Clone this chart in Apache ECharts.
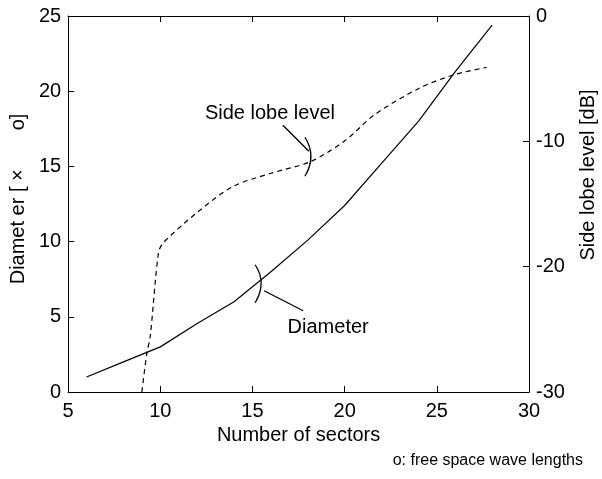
<!DOCTYPE html>
<html>
<head>
<meta charset="utf-8">
<script src="https://cdn.jsdelivr.net/npm/echarts@6/dist/echarts.min.js"></script>
<style>html,body{margin:0;padding:0;background:#fff}#c{width:602px;height:479px}</style>
</head>
<body>
<div id="c"></div>
<script>
// Diameter (in free-space wavelengths) vs number of sectors
const diamSectors = [6, 8, 10, 12, 14, 16, 18, 20, 22, 24, 26, 28];
const diamValues  = [1.0, 2.0, 3.0, 4.55, 6.0, 8.0, 10.1, 12.4, 15.2, 18.0, 21.3, 24.4];
// Side lobe level [dB] vs number of sectors
const sllSectors = [9.0, 9.27, 9.45, 9.9, 10.16, 12.06, 13.95, 16.0, 18.17, 20.06, 21.6, 24.0, 25.9, 27.7];
const sllValues  = [-30, -26.9, -25.6, -18.9, -18.1, -15.6, -13.6, -12.55, -11.6, -9.9, -7.9, -5.8, -4.7, -4.1];
// Axis ticks
const xTicks = [5, 10, 15, 20, 25, 30];
const yLeftTicks = [0, 5, 10, 15, 20, 25];
const yRightTicks = [-30, -20, -10, 0];
// Annotation anchors (data space)
const diamAnchor = [15.47, 7.33];
const sllAnchor = [18.17, -11.35];

const FONT = '"Liberation Sans", Arial, Helvetica, sans-serif';
const FS = 20;
const chart = echarts.init(document.getElementById('c'), null, {renderer: 'canvas'});
const axisLine = {show: true, lineStyle: {color: '#000', width: 1}};
const tick = {show: true, inside: true, length: 6, lineStyle: {color: '#000', width: 1}};
const lab = {color: '#000', fontSize: FS, fontFamily: FONT};

chart.setOption({
  animation: false,
  backgroundColor: '#fff',
  grid: {left: 66, right: 73, top: 16, bottom: 87, containLabel: false},
  xAxis: [{
    type: 'value', position: 'bottom', min: xTicks[0], max: xTicks[xTicks.length - 1], interval: 5,
    axisLine, axisTick: tick, splitLine: {show: false},
    axisLabel: Object.assign({margin: 9}, lab),
    name: 'Number of sectors', nameLocation: 'middle', nameGap: 32,
    nameTextStyle: {color: '#000', fontSize: FS, fontFamily: FONT}
  }, {
    type: 'value', position: 'top', min: xTicks[0], max: xTicks[xTicks.length - 1], interval: 5,
    axisLine, axisTick: tick, splitLine: {show: false}, axisLabel: {show: false}
  }],
  yAxis: [{
    type: 'value', position: 'left', min: yLeftTicks[0], max: yLeftTicks[yLeftTicks.length - 1], interval: 5,
    axisLine, axisTick: tick, splitLine: {show: false},
    axisLabel: Object.assign({margin: 7}, lab),
    name: 'Diamet er [ ×       o]', nameLocation: 'middle', nameGap: 36, nameRotate: 90,
    nameTextStyle: {color: '#000', fontSize: FS, fontFamily: FONT, padding: [0, 0, 0, 10]}
  }, {
    type: 'value', position: 'right', min: yRightTicks[0], max: yRightTicks[yRightTicks.length - 1], interval: 10,
    axisLine, axisTick: tick, splitLine: {show: false},
    axisLabel: Object.assign({margin: 7}, lab)
  }],
  series: [{
    name: 'Diameter', type: 'line', xAxisIndex: 0, yAxisIndex: 0,
    data: diamSectors.map((s, i) => [s, diamValues[i]]),
    smooth: false, showSymbol: false, lineStyle: {color: '#000', width: 1.2}
  }, {
    name: 'Side lobe level', type: 'line', xAxisIndex: 0, yAxisIndex: 1,
    data: sllSectors.map((s, i) => [s, sllValues[i]]),
    smooth: 0.3, showSymbol: false, lineStyle: {color: '#000', width: 1.2, type: [5, 4]}
  }]
});

const dA = chart.convertToPixel({xAxisIndex: 0, yAxisIndex: 0}, diamAnchor);
const sA = chart.convertToPixel({xAxisIndex: 0, yAxisIndex: 1}, sllAnchor);
const st = {stroke: '#000', lineWidth: 1.3, fill: null};
const W = chart.getWidth();

chart.setOption({
  graphic: [
    // Diameter bracket, leader and label
    {type: 'bezierCurve', shape: {x1: dA[0] - 6, y1: dA[1] - 17, cpx1: dA[0] + 6, cpy1: dA[1] + 1, x2: dA[0] - 6, y2: dA[1] + 21}, style: st},
    {type: 'line', shape: {x1: dA[0] + 3, y1: dA[1] + 9, x2: dA[0] + 42, y2: dA[1] + 29}, style: st},
    {type: 'text', x: dA[0] + 67, y: dA[1] + 46, style: {text: 'Diameter', fill: '#000', font: FS + 'px ' + FONT, align: 'center', verticalAlign: 'middle'}},
    // Side lobe bracket, leader and label
    {type: 'bezierCurve', shape: {x1: sA[0] - 6, y1: sA[1] - 21, cpx1: sA[0] + 6, cpy1: sA[1] - 2, x2: sA[0] - 6, y2: sA[1] + 18}, style: st},
    {type: 'line', shape: {x1: sA[0] - 28, y1: sA[1] - 33, x2: sA[0] - 2, y2: sA[1] - 7}, style: st},
    {type: 'text', x: sA[0] - 41, y: sA[1] - 45, style: {text: 'Side lobe level', fill: '#000', font: FS + 'px ' + FONT, align: 'center', verticalAlign: 'middle'}},
    // Right axis title
    {type: 'text', x: W - 14, y: 175, rotation: Math.PI / 2, style: {text: 'Side lobe level [dB]', fill: '#000', font: FS + 'px ' + FONT, align: 'center', verticalAlign: 'middle'}},
    // Footnote
    {type: 'text', x: W - 19, y: 461, style: {text: 'o: free space wave lengths', fill: '#000', font: '16px ' + FONT, align: 'right', verticalAlign: 'middle'}}
  ]
});
</script>
</body>
</html>
